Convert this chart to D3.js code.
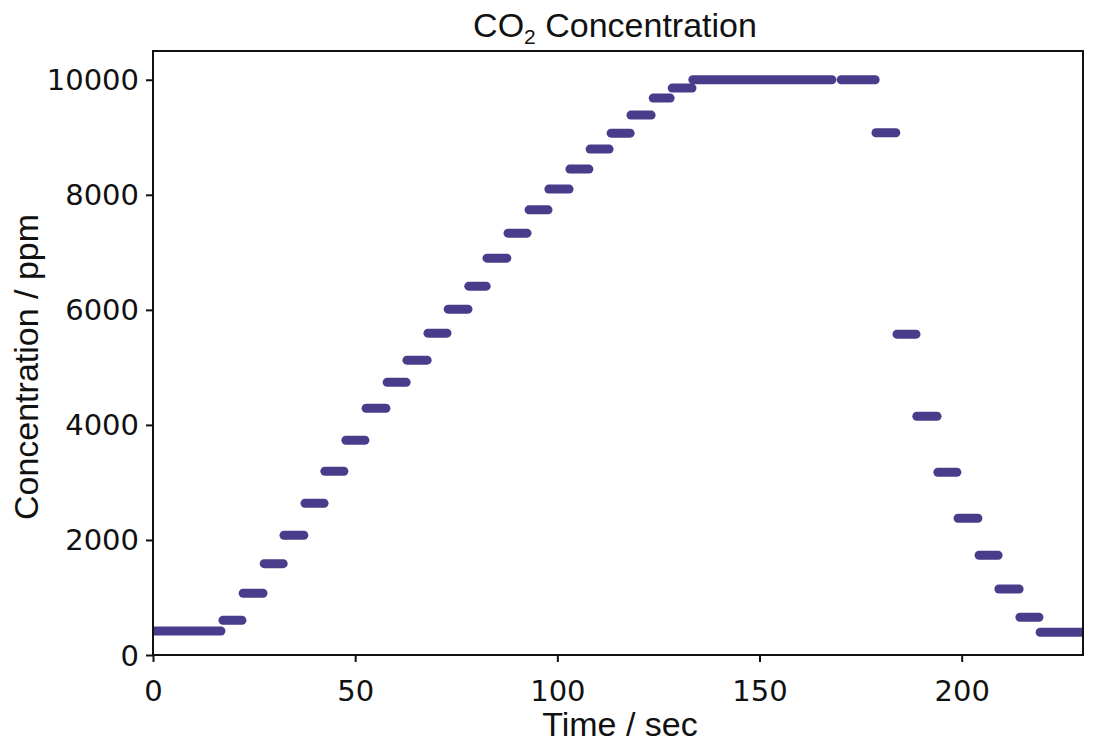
<!DOCTYPE html>
<html>
<head>
<meta charset="utf-8">
<script src="https://cdn.jsdelivr.net/npm/d3@7"></script>
<style>
  html, body { margin: 0; padding: 0; background: #fff; }
  svg { display: block; }
</style>
</head>
<body>
<div id="chart"></div>
<script>
// Step levels of CO2 concentration (ppm) and the time span (sec) each level is held
const levels = [417, 603, 1073, 1588, 2082, 2638, 3195, 3734, 4290, 4740, 5125, 5595, 6012, 6412,
  6899, 7333, 7739, 8099, 8447, 8795, 9072, 9386, 9681, 9855, 10000, 10000, 9078, 5577, 4151,
  3177, 2377, 1734, 1148, 656, 395];
const tStart = [0, 17.3, 22.3, 27.5, 32.4, 37.6, 42.5, 47.7, 52.7, 57.9, 62.8, 68.0, 73.0, 78.1,
  82.6, 87.8, 93.0, 97.9, 103.1, 108.1, 113.3, 118.2, 123.7, 128.4, 133.5, 170.2, 178.8, 184.0, 188.9,
  194.1, 199.1, 204.3, 209.2, 214.4, 219.4];
const tEnd = [16.8, 22.0, 27.2, 32.2, 37.3, 42.3, 47.2, 52.4, 57.6, 62.6, 67.8, 72.7, 77.9, 82.4,
  87.5, 92.5, 97.7, 102.9, 107.8, 112.8, 118.0, 123.2, 127.9, 133.3, 167.9, 178.6, 183.7, 188.7, 193.9,
  198.8, 204.0, 209.0, 214.2, 219.1, 231];
const xTicks = [0, 50, 100, 150, 200];
const yTicks = [0, 2000, 4000, 6000, 8000, 10000];

const W = 1096, H = 750;
const L = 153, R = 1083, T = 51, B = 655;
const color = "#483d8b";
const ink = "#111";

const svg = d3.select("#chart").append("svg").attr("width", W).attr("height", H);

const x = d3.scaleLinear().domain([0, 230]).range([L, R]);
const y = d3.scaleLinear().domain([0, 10500]).range([B, T]);

svg.append("defs").append("clipPath").attr("id", "clip")
  .append("rect").attr("x", L).attr("y", T).attr("width", R - L).attr("height", B - T);

const segs = levels.map((v, i) => ({v, t0: tStart[i], t1: tEnd[i]}));
svg.append("g").attr("clip-path", "url(#clip)")
  .selectAll("line").data(segs).join("line")
  .attr("x1", d => x(d.t0)).attr("x2", d => x(d.t1))
  .attr("y1", d => y(d.v)).attr("y2", d => y(d.v))
  .attr("stroke", color).attr("stroke-width", 9).attr("stroke-linecap", "round");

// axes
const xAxis = svg.append("g").attr("transform", `translate(0,${B})`)
  .call(d3.axisBottom(x).tickValues(xTicks).tickSize(7).tickSizeOuter(0).tickFormat(d3.format("d")));
const yAxis = svg.append("g").attr("transform", `translate(${L},0)`)
  .call(d3.axisLeft(y).tickValues(yTicks).tickSize(7).tickSizeOuter(0).tickFormat(d3.format("d")));

[xAxis, yAxis].forEach(a => {
  a.select(".domain").remove();
  a.selectAll(".tick line").attr("stroke", ink).attr("stroke-width", 2);
  a.selectAll(".tick text").attr("fill", ink)
    .style("font-family", "'DejaVu Sans', sans-serif").style("font-size", "29px");
});
xAxis.selectAll(".tick text").attr("y", 46).attr("dy", null).attr("text-anchor", "middle");
yAxis.selectAll(".tick text").attr("x", -14).attr("dy", 10).attr("text-anchor", "end");

// frame
svg.append("rect").attr("x", L).attr("y", T).attr("width", R - L).attr("height", B - T)
  .attr("fill", "none").attr("stroke", ink).attr("stroke-width", 2);

const labFont = "'Liberation Sans', Arial, sans-serif";
// x label
svg.append("text").attr("x", (L + R) / 2 + 2).attr("y", 736)
  .attr("text-anchor", "middle").style("font-family", labFont).style("font-size", "34px")
  .attr("fill", ink).text("Time / sec");
// y label
svg.append("text").attr("transform", `translate(38,${(T + B) / 2 + 14}) rotate(-90)`)
  .attr("text-anchor", "middle").style("font-family", labFont).style("font-size", "34px")
  .attr("fill", ink).text("Concentration / ppm");
// title
const title = svg.append("text").attr("x", (L + R) / 2 - 3).attr("y", 37)
  .attr("text-anchor", "middle").style("font-family", labFont).style("font-size", "34px")
  .attr("fill", ink);
title.append("tspan").text("CO");
title.append("tspan").attr("font-size", "21px").attr("dy", 7).text("2");
title.append("tspan").attr("dy", -7).text(" Concentration");
</script>
</body>
</html>
